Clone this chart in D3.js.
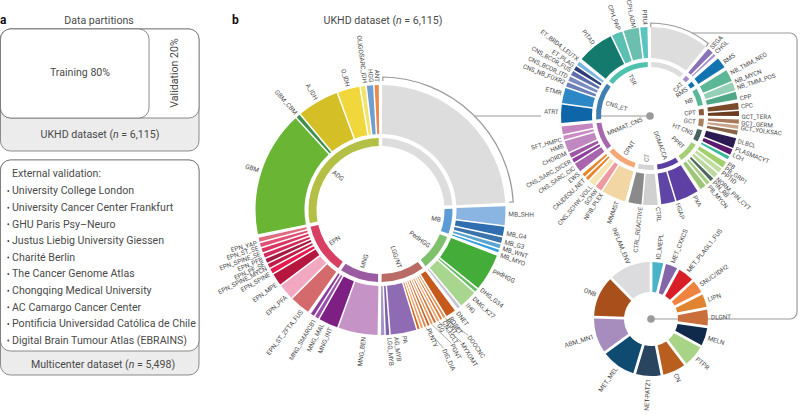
<!DOCTYPE html>
<html><head><meta charset="utf-8">
<script src="https://cdn.jsdelivr.net/npm/d3@7/dist/d3.min.js"></script>
<style>html,body{margin:0;padding:0;background:#fff}svg{display:block}text{font-family:Roboto,sans-serif;fill:#4a4a4a}</style>
</head><body><svg id="c" width="800" height="415"></svg>
<script>
// ---------- panel a ----------
const externalCenters = ["University College London","University Cancer Center Frankfurt","GHU Paris Psy–Neuro","Justus Liebig University Giessen","Charité Berlin","The Cancer Genome Atlas","Chongqing Medical University","AC Camargo Cancer Center","Pontificia Universidad Católica de Chile","Digital Brain Tumour Atlas (EBRAINS)"];
const ukhdGroupNames = ["","MB","PedHGG","LGG/NT","MNG","EPN","ADG"];
const ukhdGroupSizes = [1,5,4,13,4,10,7];
const ukhdGroupColors = ["#dedddd","#5c9bd6","#7fc06d","#bb6b66","#9b5ba1","#d83f63","#b3c045"];
const ukhdLeafNames = ["","MB_SHH","MB_G4","MB_G3","MB_WNT","MB_MYO","pedHGG","DHG_G34","DMG_K27","IHG","DNET","DOOCNC","ROSET","MYXOMT","RGNT","PGNT","CN_LCLT","DIG_DIA","GG","PLNTY","PA","AG_MYB","LGG_MYB","MNG_BEN","MNG_INT","MNG_MAL","MNG_SMARCB1","EPN_ST_ZFTA_FUS","EPN_PFA","EPN_MPE","EPN_SPINE","EPN_SPINE_MYCN","EPN_PF_SE","EPN_PFB","EPN_SPINE_SE","EPN_ST_SE","EPN_YAP","GBM","GBM_CBM","A_IDH","O_IDH","OLIGOSARC_IDH","HGG","ANT"];
const ukhdLeafShares = [86,10,5,3,2,1.5,18.5,1.5,9,1.5,6,1.2,1.2,1.2,1.2,1.2,1.2,1.2,1.2,1.2,15.5,2,2,19.5,9.5,1.8,1.7,11,8.5,6.5,2.6,2.2,2.2,2.2,2.2,2.2,2.2,61,1.8,20,10.5,2.2,3,2];
const ukhdLeafColors = ["#dedddd","#8ab5e2","#2f6fb0","#3a74ab","#5aa5d0","#2fa0dd","#44ad3a","#67bd62","#a9d68e","#c9c3d6","#c65a1d","#e0894a","#d8783a","#eaa56f","#d2692e","#e59a5f","#c8652a","#dc8a50","#e8a16a","#d2691e","#8f6bb3","#7e60a8","#a693c9","#c693c6","#7e2083","#9b4ea8","#8a3c9c","#d46a6c","#f3a8c2","#b5173f","#e61a50","#c21c49","#a51a42","#d12b5b","#d6365f","#e14f73","#e06a80","#6ab534","#3d8f4a","#d4bf26","#f0d73c","#f3e36a","#6f9fd0","#e88a4a"];
// ---------- upper right ring ----------
const cnsGroupNames = ["","CAT","RMS","NB","CPT","GCT","HT CNS","PPRT","DGMACCA","CT","CPNT","MNMAT_CNS","CNS_ET","TSR"];
const cnsGroupSizes = [1,2,1,3,2,3,3,6,2,2,5,6,7,4];
const cnsGroupColors = ["#dedddd","#a58bc8","#1273b1","#59b795","#8c5a3c","#a9805f","#48605f","#a4cf74","#5a3fa3","#d4d4d4","#f4a875","#a668ac","#3f7eb0","#4fc2ae"];
const cnsLeafNames = ["","SEGA","CHGL","RMS","NB_TMM_NEO","NB_MYCN","NB_TMM_POS","CPP","CPC","GCT_TERA","GCT_GERM","GCT_YOLKSAC","DLBCL","PLASMACYT","LCH","PB","PB_GRP1","PPTID","NORM_PIN_CYT","PIN_RB","PB_MYCN","PXA","HGAP","CTRL","CTRL_REACTIVE","MMMST","NFIB_PLEX","SCHW","CNS_SCHW_VOLL","CAUDEQU_NET","EWS","CNS_SARC_CIC","CNS_SARC_DICER","CHORDM","HMB","SFT_HMPC","ATRT","ETMR","CNS_NB_FOXR2","CNS_BCOR_ITD","CNS_BCOR_FUS","ET_PLAG","ET_BRD4_LEUTX","PITAD","CPH_PAP","CPH_ADM","PITUI"];
const cnsLeafShares = [38,4.5,2,7,8.5,6,5.5,5,3.5,3.5,3,3.5,7.5,4.5,2.5,5,4,4,3,3,5,15.5,9.5,10,9,18,5,5,2.5,2.5,7,3,3.5,9,3,6,14,11.5,3.5,3.5,3.5,3,3,25.5,7.5,10.5,5];
const cnsLeafColors = ["#dedddd","#8a72b7","#a998cc","#1273b1","#5bb795","#93d0b6","#4fa886","#7b4a2a","#6c3c20","#a9775a","#c9a58d","#8a6247","#2d1a52","#5c1a6e","#3ab89c","#a2d06a","#c0dea0","#bcd99d","#4e6a5e","#a8cf86","#9cc678","#5e3fa3","#5f45a5","#d0d0d0","#8a8a8a","#f2d7a4","#ef9aa0","#f7e4b5","#e8862c","#e8862c","#a864ac","#8e3f9d","#9e55a6","#c088c0","#c98dc4","#c586c0","#0e65a8","#2b87c5","#6c7fb8","#7a8cc2","#5f6fab","#2c3e78","#7ab5e0","#157a6e","#5bc0b3","#6abfae","#5cc4c0"];
// ---------- lower right ring ----------
const otherNames = ["IO_MEPL","MET_CXKCS","MET_PLAGL1_FUS","SNUC/IDH2","LIPN","DLGNT","MELN","PTPR","CN","NET-PATZ1","MET_MEL","ABM_MN1","ONB","INFLAM_ENV"];
const otherShares = [11,12,16,13,13,16,18,21.5,23,25,34.5,35,41,41.5];
const otherColors = ["#4ab3c8","#8466a8","#d81e26","#ee8440","#e08432","#c96f3c","#0f2a4a","#a9d488","#b85e1f","#28445f","#0f4a70","#a68dbd","#a84f1c","#dcdcde"];
// ---------- label placement (degrees clockwise from 12 o'clock; extra radius for leader lines) ----------
const ukhdLabelAngle = {MB_SHH:91.8,MB_G4:100.5,MB_G3:104.5,MB_WNT:107.5,MB_MYO:110.5,pedHGG:118,DHG_G34:128.3,DMG_K27:133.4,IHG:137.5,DNET:143,DOOCNC:145,ROSET:147,MYXOMT:148.5,RGNT:148.7,PGNT:152,CN_LCLT:150.3,DIG_DIA:155.5,GG:153,PLNTY:158,AG_MYB:173,LGG_MYB:176,MNG_BEN:187.5,MNG_INT:203,MNG_MAL:207,MNG_SMARCB1:211,EPN_ST_ZFTA_FUS:218,EPN_PFA:227.5,EPN_MPE:234.5,EPN_SPINE:240,EPN_SPINE_MYCN:243,EPN_PF_SE:245,EPN_PFB:247.4,EPN_SPINE_SE:250,EPN_ST_SE:252.7,EPN_YAP:255,OLIGOSARC_IDH:353,HGG:355.8,ANT:358.5};
const ukhdLabelLift = {DOOCNC:26,MYXOMT:28,PGNT:24,DIG_DIA:25};
const cnsLabelAngle = {SEGA:42,CHGL:46,RMS:54,NB_TMM_NEO:62,NB_MYCN:68,NB_TMM_POS:72,CPP:79,CPC:84,GCT_TERA:90.5,GCT_GERM:94.5,GCT_YOLKSAC:97.5,DLBCL:106,PLASMACYT:111,LCH:115,PB:121.6,PB_GRP1:124.7,PPTID:128,NORM_PIN_CYT:133,PIN_RB:136,PB_MYCN:140,PXA:151,HGAP:162.4,CTRL:175,CTRL_REACTIVE:186,MMMST:201,NFIB_PLEX:212,SCHW:216,CNS_SCHW_VOLL:220,CAUDEQU_NET:226,EWS:231,CNS_SARC_CIC:235.6,CNS_SARC_DICER:240.3,CHORDM:246,HMB:251,SFT_HMPC:255,ATRT:272.5,ETMR:284.5,CNS_NB_FOXR2:291.5,CNS_BCOR_ITD:295.5,CNS_BCOR_FUS:300,ET_PLAG:303.5,ET_BRD4_LEUTX:308,PITAD:322,CPH_PAP:340,CPH_ADM:349.5,PITUI:357};
const cnsLabelLift = {CPH_ADM:-2};

const svg = d3.select("#c");
const RAD = Math.PI/180;
const GREY="#9a9a9a", BOX="#6f6f6f", PANEL=10.6, LABEL=6.4;

// panel a
const a = svg.append("g");
function box(y,h,r,w,fill){a.append("rect").attr("x",0.5).attr("y",y).attr("width",w).attr("height",h).attr("rx",r).attr("fill",fill).attr("stroke",BOX).attr("stroke-width",0.8);}
box(29,122,10,198.5,"#ececec"); box(29,89,10,198.5,"#fff"); box(29,89,10,148.5,"#fff");
box(160,215,10,198.5,"#ececec"); box(160,191,10,198.5,"#fff");
const T=(g,x,y,s,o={})=>{const t=g.append("text").attr("x",x).attr("y",y).attr("font-size",o.size||PANEL).attr("text-anchor",o.anchor||"start").text(s);
  if(o.weight)t.attr("font-weight",o.weight);if(o.tr)t.attr("transform",o.tr);return t;};
function nText(g,x,y,pre,post,anchor){const t=g.append("text").attr("x",x).attr("y",y).attr("font-size",PANEL).attr("text-anchor",anchor||"middle");
  t.append("tspan").text(pre);t.append("tspan").attr("font-style","italic").text("n");t.append("tspan").text(post);return t;}
T(a,0,24,"a",{size:12,weight:700}).style("fill","#111");
T(a,99,23.5,"Data partitions",{anchor:"middle"});
T(a,80,75.5,"Training 80%",{anchor:"middle"});
T(a,0,0,"Validation 20%",{anchor:"middle",tr:"translate(178,73) rotate(-90)"});
nText(a,100,138,"UKHD dataset ("," = 6,115)");
T(a,12,177,"External validation:");
externalCenters.forEach((s,i)=>{const y=194.3+i*16.6;T(a,12,y,s);a.append("circle").attr("cx",8.3).attr("cy",y-3.2).attr("r",1).attr("fill","#4a4a4a");});
nText(a,103,368,"Multicenter dataset ("," = 5,498)");
T(svg,232,24,"b",{size:12,weight:700}).style("fill","#111");
nText(svg,383,23.5,"UKHD dataset ("," = 6,115)");

// text helpers
function radial(g,cx,cy,angDeg,r,str,size,outer){
  const right=((angDeg%360)+360)%360<180;
  const rot=right?angDeg-90:angDeg+90;
  const p=[cx+r*Math.sin(angDeg*RAD),cy-r*Math.cos(angDeg*RAD)];
  const anchor=outer?(right?"start":"end"):(right?"end":"start");
  g.append("text").attr("font-size",size).attr("text-anchor",anchor).attr("dy","0.34em")
   .attr("transform",`translate(${p[0]},${p[1]}) rotate(${rot})`).text(str);
}
function ring(o){
  const g=svg.append("g").attr("transform",`translate(${o.cx},${o.cy})`);
  // slice the leaves into their groups, groups share the circle through d3.pie
  let k=0;const groups=o.groupSizes.map((n,i)=>{const idx=d3.range(k,k+n);k+=n;return {i,idx,total:d3.sum(idx,j=>o.shares[j])};});
  const gp=d3.pie().sort(null).value(d=>d.total).padAngle(o.groupPad*RAD).startAngle(o.start*RAD).endAngle((o.start+360)*RAD)(groups);
  const leafArc=d3.arc().innerRadius(o.r0).outerRadius(o.r1).padRadius(o.r1);
  const groupArc=d3.arc().innerRadius(o.g0).outerRadius(o.g1).padRadius(o.r1);
  const out=[];
  gp.forEach(s=>{
    const lp=d3.pie().sort(null).value(j=>o.shares[j]).padAngle(o.leafPad*RAD).startAngle(s.startAngle+o.groupPad*RAD/2-o.leafPad*RAD/2).endAngle(s.endAngle-o.groupPad*RAD/2+o.leafPad*RAD/2)(s.data.idx);
    lp.forEach(l=>{g.append("path").attr("d",leafArc(l)).attr("fill",o.colors[l.data]);out.push(l);});
    g.append("path").attr("d",groupArc(s)).attr("fill",o.groupColors[s.data.i]);
    const nm=o.groupNames[s.data.i];
    if(nm) radial(svg,o.cx,o.cy,(s.startAngle+s.endAngle)/2/RAD,o.g0-3,nm,o.size,false);
  });
  out.forEach(l=>{
    const nm=o.names[l.data]; if(!nm) return;
    const ang=o.labelAngle[nm]!==undefined?o.labelAngle[nm]:(l.startAngle+l.endAngle)/2/RAD;
    const lift=o.labelLift[nm]||0; const mid=(l.startAngle+l.endAngle)/2;
    if(lift>0){ // leader line from the wedge to its lifted label
      const rr=o.r1+o.labelGap+lift-1, pa=ang*RAD;
      svg.append("line").attr("x1",o.cx+(o.r1+1)*Math.sin(mid)).attr("y1",o.cy-(o.r1+1)*Math.cos(mid))
       .attr("x2",o.cx+rr*Math.sin(pa)).attr("y2",o.cy-rr*Math.cos(pa)).attr("stroke","#555").attr("stroke-width",0.5);
    }
    radial(svg,o.cx,o.cy,ang,o.r1+o.labelGap+lift,nm,o.size,true);
  });
  return gp;
}
const M={cx:380.5,cy:210,r1:125,r0:76,g1:72,g0:64},C={cx:650,cy:116,r1:89,r0:58,g1:54,g0:49},L={cx:651,cy:319,r1:57,r0:27};
const bracketR=133, cnsBr=93;

// connectors (under the rings)
const dy=C.cy-M.cy, xOnArc=M.cx+Math.sqrt(bracketR*bracketR-dy*dy);
const lines=svg.append("g").attr("fill","none").attr("stroke",GREY).attr("stroke-width",1.2);
lines.append("line").attr("x1",xOnArc).attr("y1",C.cy).attr("x2",C.cx-109).attr("y2",C.cy);
lines.append("line").attr("x1",C.cx-50).attr("y1",C.cy).attr("x2",C.cx).attr("y2",C.cy);
const yTop=33,xRight=797,rc=7,xs=C.cx+Math.sqrt(cnsBr*cnsBr-(C.cy-yTop)*(C.cy-yTop));
const pp=d3.path();pp.moveTo(xs,yTop);pp.lineTo(xRight-rc,yTop);pp.arcTo(xRight,yTop,xRight,yTop+rc,rc);pp.lineTo(xRight,L.cy-rc);pp.arcTo(xRight,L.cy,xRight-rc,L.cy,rc);pp.lineTo(L.cx,L.cy);
lines.append("path").attr("d",pp.toString());

const gpM=ring({cx:M.cx,cy:M.cy,r0:M.r0,r1:M.r1,g0:M.g0,g1:M.g1,start:0,groupPad:1.6,leafPad:0.7,groupSizes:ukhdGroupSizes,groupNames:ukhdGroupNames,groupColors:ukhdGroupColors,names:ukhdLeafNames,shares:ukhdLeafShares,colors:ukhdLeafColors,labelAngle:ukhdLabelAngle,labelLift:ukhdLabelLift,labelGap:3,size:LABEL});
const gpC=ring({cx:C.cx,cy:C.cy,r0:C.r0,r1:C.r1,g0:C.g0,g1:C.g1,start:-0.5,groupPad:2.3,leafPad:1,groupSizes:cnsGroupSizes,groupNames:cnsGroupNames,groupColors:cnsGroupColors,names:cnsLeafNames,shares:cnsLeafShares,colors:cnsLeafColors,labelAngle:cnsLabelAngle,labelLift:cnsLabelLift,labelGap:2.5,size:6.2});
// lower ring
const gL=svg.append("g").attr("transform",`translate(${L.cx},${L.cy})`);
const pieL=d3.pie().sort(null).padAngle(2.8*RAD).value(d=>d)(otherShares);
const arcL=d3.arc().innerRadius(L.r0).outerRadius(L.r1).padRadius(L.r1);
pieL.forEach((d,i)=>{gL.append("path").attr("d",arcL(d)).attr("fill",otherColors[i]);
  radial(svg,L.cx,L.cy,(d.startAngle+d.endAngle)/2/RAD,L.r1+3,otherNames[i],LABEL,true);});

// brackets and dots
function bracket(cx,cy,r,a0,a1){const p=d3.path(),f=x=>x-Math.PI/2;
  p.moveTo(cx+(r-4)*Math.cos(f(a0)),cy+(r-4)*Math.sin(f(a0)));p.lineTo(cx+r*Math.cos(f(a0)),cy+r*Math.sin(f(a0)));
  p.arc(cx,cy,r,f(a0),f(a1));p.lineTo(cx+(r-4)*Math.cos(f(a1)),cy+(r-4)*Math.sin(f(a1)));
  svg.append("path").attr("d",p.toString()).attr("fill","none").attr("stroke",GREY).attr("stroke-width",1.2);}
bracket(M.cx,M.cy,bracketR,gpM[0].startAngle+1*RAD,gpM[0].endAngle-1*RAD);
bracket(C.cx,C.cy,cnsBr,gpC[0].startAngle+1*RAD,gpC[0].endAngle-1*RAD);
[[C.cx,C.cy],[L.cx,L.cy]].forEach(c=>svg.append("circle").attr("cx",c[0]).attr("cy",c[1]).attr("r",3.8).attr("fill",GREY));
</script></body></html>
